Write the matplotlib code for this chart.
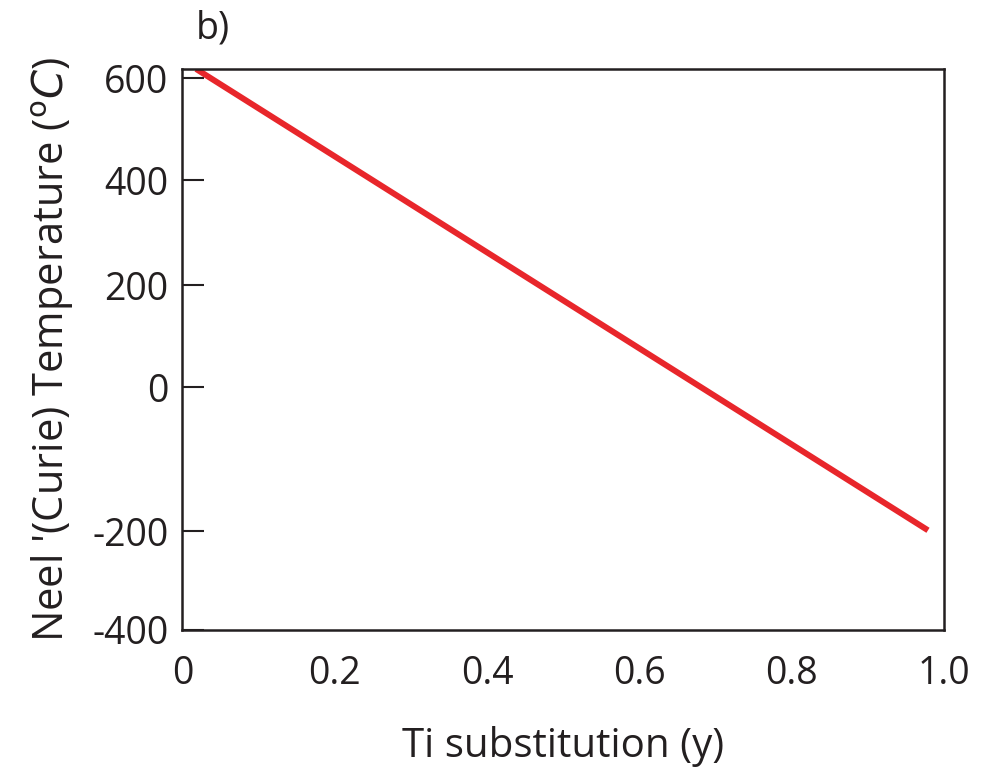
import numpy as np
import matplotlib
matplotlib.use("Agg")
import matplotlib.pyplot as plt

# data
ti_y = [0.018, 0.979]
neel_temp = [618, -199]

x_ticks = [0, 0.2, 0.4, 0.6, 0.8, 1.0]
x_labels = ["0", "0.2", "0.4", "0.6", "0.8", "1.0"]
y_ticks = [-400, -200, 0, 200, 400, 600]
y_labels = ["-400", "-200", "0", "200", "400", "600"]

# the original axis is hand drawn with uneven tick spacing,
# so map the tick values onto their drawn heights
knot_vals = np.array([-600, -400, -200, 0, 200, 400, 600, 800])
knot_pos = np.array([-99, 0, 99, 243, 345, 450, 552, 654])


def forward(v):
    return np.interp(v, knot_vals, knot_pos)


def inverse(p):
    return np.interp(p, knot_pos, knot_vals)


plt.rcParams['font.family'] = ['Open Sans', 'DejaVu Sans']

fig = plt.figure(figsize=(9.9, 7.71), dpi=100)
ax = fig.add_axes([0.1843, 0.1829, 0.7692, 0.7276])

ax.set_yscale('function', functions=(forward, inverse))
ax.plot(ti_y, neel_temp, color='#e8262b', lw=4.3, solid_capstyle='butt')

ax.set_xlim(0, 1.0)
ax.set_ylim(-400, 618)
ax.set_xticks(x_ticks)
ax.set_xticklabels(x_labels)
ax.set_yticks(y_ticks)
ax.set_yticklabels(y_labels)
ax.minorticks_off()

ax.tick_params(axis='x', length=0, pad=18, labelsize=27, colors='#231f20')
ax.tick_params(axis='y', direction='in', length=16, width=1.5, pad=10,
               labelsize=27, colors='#231f20')
for s in ax.spines.values():
    s.set_linewidth(1.8)
    s.set_color('#231f20')

ax.set_xlabel("Ti substitution (y)", fontsize=29, labelpad=24, color='#231f20')
ax.set_ylabel(r"Neel '(Curie) Temperature ($^{\rm o}C$)", fontsize=30,
              labelpad=12, color='#231f20')
fig.text(0.215, 0.963, "b)", fontsize=27, ha='center', va='center',
         color='#231f20')

fig.savefig("out.png", dpi=100)
